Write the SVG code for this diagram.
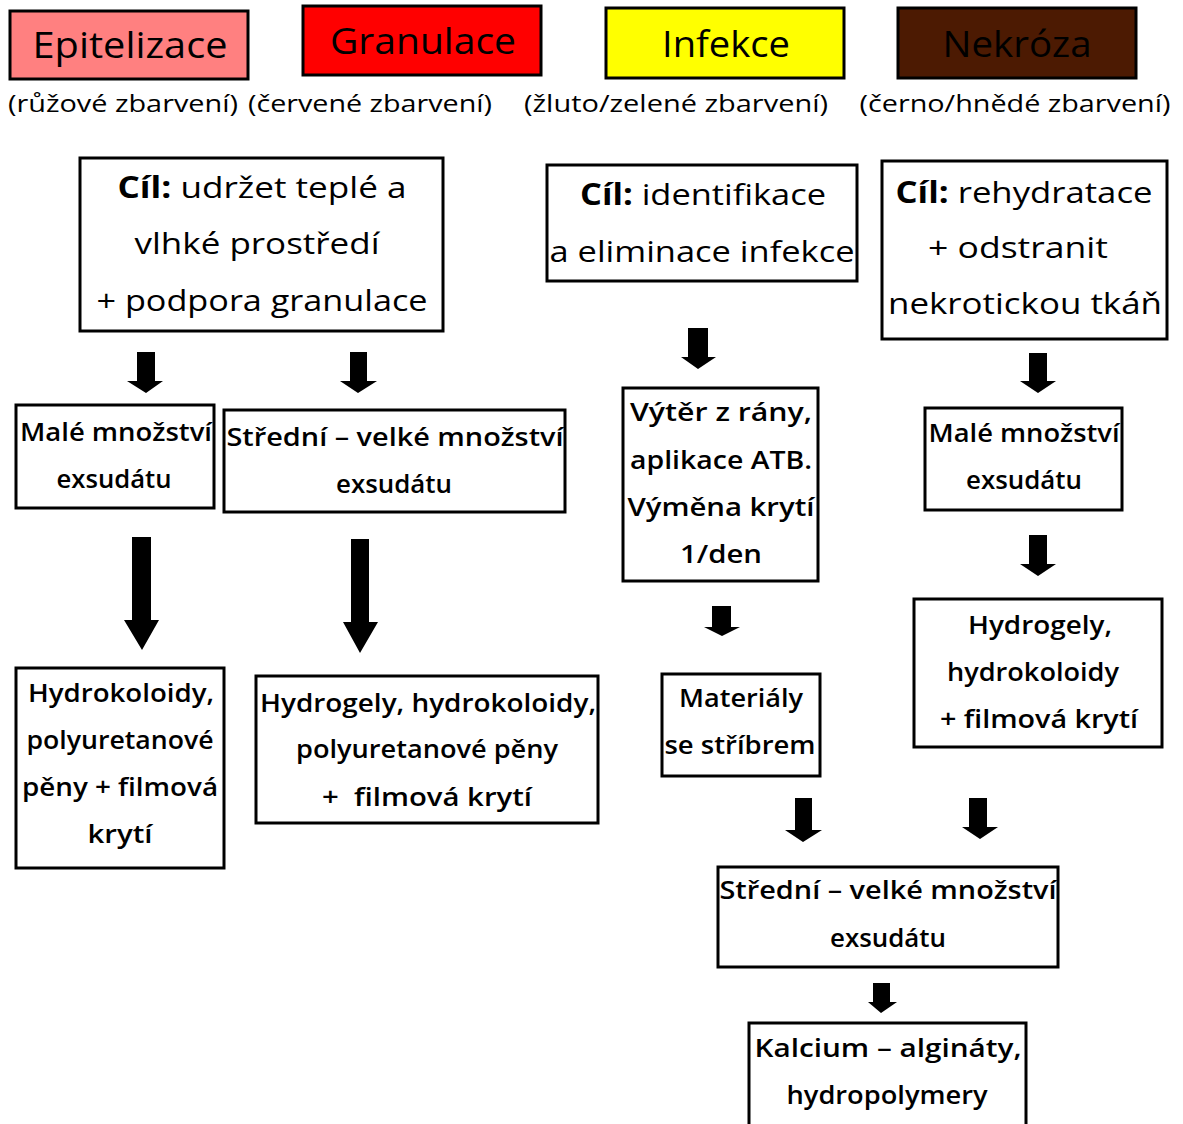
<svg xmlns="http://www.w3.org/2000/svg" width="1183" height="1124" viewBox="0 0 1183 1124">
<style>
.box{fill:#fff;stroke:#000;stroke-width:3}
.hdr{stroke:#000;stroke-width:3}
text{font-family:"Open Sans","DejaVu Sans",sans-serif;fill:#000;text-anchor:middle}
.t{font-size:36px}
.s{font-size:24px}
.g{font-size:30px}
.b{font-size:26px;font-weight:600}
.k{font-weight:700}
.arr{fill:#000}
</style>
<rect width="1183" height="1124" fill="#fff"/>
<g id="hdr-epitelizace">
<rect class="hdr" x="10" y="11" width="238" height="68" fill="#ff8080"/>
<text class="t" x="130" y="58" textLength="195" lengthAdjust="spacingAndGlyphs">Epitelizace</text>
<text class="s" x="123" y="112" textLength="230" lengthAdjust="spacingAndGlyphs">(růžové zbarvení)</text>
</g>
<g id="hdr-granulace">
<rect class="hdr" x="303" y="6" width="238" height="69" fill="#ff0000"/>
<text class="t" x="423" y="54" textLength="186" lengthAdjust="spacingAndGlyphs">Granulace</text>
<text class="s" x="370" y="112" textLength="244" lengthAdjust="spacingAndGlyphs">(červené zbarvení)</text>
</g>
<g id="hdr-infekce">
<rect class="hdr" x="606" y="8" width="238" height="70" fill="#ffff00"/>
<text class="t" x="726" y="57" textLength="128" lengthAdjust="spacingAndGlyphs">Infekce</text>
<text class="s" x="676" y="112" textLength="304" lengthAdjust="spacingAndGlyphs">(žluto/zelené zbarvení)</text>
</g>
<g id="hdr-nekroza">
<rect class="hdr" x="898" y="8" width="238" height="70" fill="#4c1a02"/>
<text class="t" x="1017" y="57" textLength="149" lengthAdjust="spacingAndGlyphs">Nekróza</text>
<text class="s" x="1015" y="112" textLength="311" lengthAdjust="spacingAndGlyphs">(černo/hnědé zbarvení)</text>
</g>
<g id="goal-granulace">
<rect class="box" x="80" y="158" width="363" height="173"/>
<text class="g" x="262" y="198" textLength="289" lengthAdjust="spacingAndGlyphs"><tspan class="k">Cíl:</tspan> udržet teplé a</text>
<text class="g" x="257" y="254" textLength="245" lengthAdjust="spacingAndGlyphs">vlhké prostředí</text>
<text class="g" x="262" y="311" textLength="331" lengthAdjust="spacingAndGlyphs">+ podpora granulace</text>
</g>
<g id="goal-infekce">
<rect class="box" x="547" y="165" width="310" height="116"/>
<text class="g" x="703" y="205" textLength="246" lengthAdjust="spacingAndGlyphs"><tspan class="k">Cíl:</tspan> identifikace</text>
<text class="g" x="702" y="262" textLength="305" lengthAdjust="spacingAndGlyphs">a eliminace infekce</text>
</g>
<g id="goal-nekroza">
<rect class="box" x="882" y="161" width="285" height="178"/>
<text class="g" x="1024" y="203" textLength="257" lengthAdjust="spacingAndGlyphs"><tspan class="k">Cíl:</tspan> rehydratace</text>
<text class="g" x="1018" y="258" textLength="180" lengthAdjust="spacingAndGlyphs">+ odstranit</text>
<text class="g" x="1025" y="314" textLength="274" lengthAdjust="spacingAndGlyphs">nekrotickou tkáň</text>
</g>
<g id="male-left">
<rect class="box" x="16" y="405" width="198" height="103"/>
<text class="b" x="116" y="441" textLength="192" lengthAdjust="spacingAndGlyphs">Malé množství</text>
<text class="b" x="114" y="488" textLength="115" lengthAdjust="spacingAndGlyphs">exsudátu</text>
</g>
<g id="stredni-left">
<rect class="box" x="224" y="410" width="341" height="102"/>
<text class="b" x="395" y="446" textLength="337" lengthAdjust="spacingAndGlyphs">Střední – velké množství</text>
<text class="b" x="394" y="493" textLength="116" lengthAdjust="spacingAndGlyphs">exsudátu</text>
</g>
<g id="hydrokoloidy-left">
<rect class="box" x="16" y="668" width="208" height="200"/>
<text class="b" x="121" y="702" textLength="186" lengthAdjust="spacingAndGlyphs">Hydrokoloidy,</text>
<text class="b" x="120" y="749" textLength="187" lengthAdjust="spacingAndGlyphs">polyuretanové</text>
<text class="b" x="120" y="796" textLength="196" lengthAdjust="spacingAndGlyphs">pěny + filmová</text>
<text class="b" x="120" y="843" textLength="65" lengthAdjust="spacingAndGlyphs">krytí</text>
</g>
<g id="hydrogely-left">
<rect class="box" x="256" y="676" width="342" height="147"/>
<text class="b" x="428" y="712" textLength="336" lengthAdjust="spacingAndGlyphs">Hydrogely, hydrokoloidy,</text>
<text class="b" x="427" y="758" textLength="262" lengthAdjust="spacingAndGlyphs">polyuretanové pěny</text>
<text class="b" x="427" y="806" textLength="210" lengthAdjust="spacingAndGlyphs">+ &#160;filmová krytí</text>
</g>
<g id="vyter">
<rect class="box" x="623" y="388" width="195" height="193"/>
<text class="b" x="721" y="421" textLength="182" lengthAdjust="spacingAndGlyphs">Výtěr z rány,</text>
<text class="b" x="721" y="469" textLength="182" lengthAdjust="spacingAndGlyphs">aplikace ATB.</text>
<text class="b" x="721" y="516" textLength="187" lengthAdjust="spacingAndGlyphs">Výměna krytí</text>
<text class="b" x="721" y="563" textLength="82" lengthAdjust="spacingAndGlyphs">1/den</text>
</g>
<g id="materialy">
<rect class="box" x="662" y="674" width="158" height="102"/>
<text class="b" x="741" y="707" textLength="124" lengthAdjust="spacingAndGlyphs">Materiály</text>
<text class="b" x="740" y="754" textLength="151" lengthAdjust="spacingAndGlyphs">se stříbrem</text>
</g>
<g id="male-right">
<rect class="box" x="925" y="408" width="197" height="102"/>
<text class="b" x="1024" y="442" textLength="191" lengthAdjust="spacingAndGlyphs">Malé množství</text>
<text class="b" x="1024" y="489" textLength="116" lengthAdjust="spacingAndGlyphs">exsudátu</text>
</g>
<g id="hydrogely-right">
<rect class="box" x="914" y="599" width="248" height="148"/>
<text class="b" x="1040" y="634" textLength="144" lengthAdjust="spacingAndGlyphs">Hydrogely,</text>
<text class="b" x="1033" y="681" textLength="172" lengthAdjust="spacingAndGlyphs">hydrokoloidy</text>
<text class="b" x="1039" y="728" textLength="198" lengthAdjust="spacingAndGlyphs">+ filmová krytí</text>
</g>
<g id="stredni-bottom">
<rect class="box" x="718" y="867" width="340" height="100"/>
<text class="b" x="888" y="899" textLength="337" lengthAdjust="spacingAndGlyphs">Střední – velké množství</text>
<text class="b" x="888" y="947" textLength="116" lengthAdjust="spacingAndGlyphs">exsudátu</text>
</g>
<g id="kalcium">
<rect class="box" x="749" y="1023" width="277" height="110"/>
<text class="b" x="888" y="1057" textLength="267" lengthAdjust="spacingAndGlyphs">Kalcium – algináty,</text>
<text class="b" x="887" y="1104" textLength="201" lengthAdjust="spacingAndGlyphs">hydropolymery</text>
</g>
<g id="connectors" class="arr">
<polygon points="137,352 155,352 155,381 163,381 146,393 127,381 137,381"/>
<polygon points="350,352 367,352 367,381 377,381 358,393 340,381 350,381"/>
<polygon points="132,537 151,537 151,620 159,620 142,650 124,620 132,620"/>
<polygon points="351,539 369,539 369,622 378,622 360,653 343,622 351,622"/>
<polygon points="688,328 708,328 708,357 716,357 698,369 681,357 688,357"/>
<polygon points="1029,353 1047,353 1047,381 1056,381 1038,393 1020,381 1029,381"/>
<polygon points="1029,535 1047,535 1047,564 1056,564 1038,576 1020,564 1029,564"/>
<polygon points="712,606 731,606 731,627 740,627 722,636 704,627 712,627"/>
<polygon points="795,798 812,798 812,830 822,830 803,842 785,830 795,830"/>
<polygon points="969,798 987,798 987,827 998,827 980,839 962,827 969,827"/>
<polygon points="873,983 890,983 890,1002 897,1002 881,1013 868,1002 873,1002"/>
</g>
</svg>
